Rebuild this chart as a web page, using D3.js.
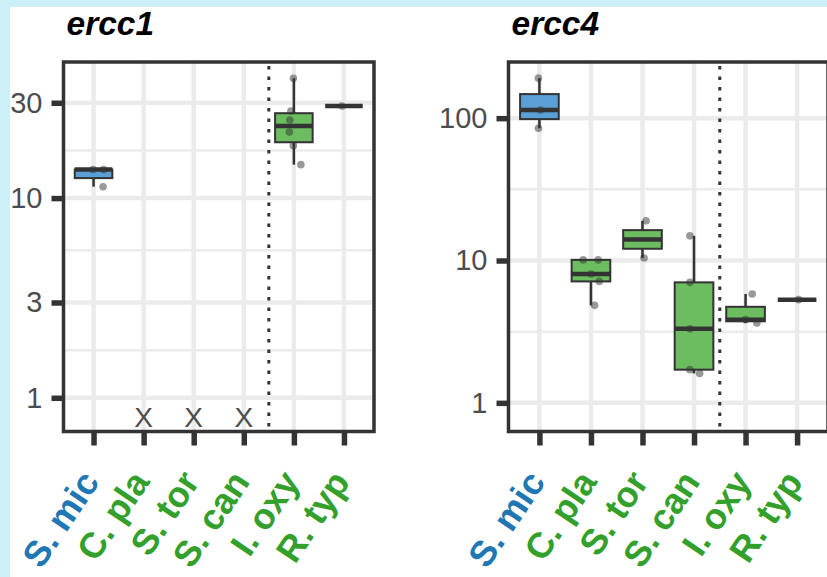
<!DOCTYPE html>
<html><head><meta charset="utf-8">
<script src="https://cdn.jsdelivr.net/npm/d3@7"></script>
<style>html,body{margin:0;padding:0;background:#cdeff7;} svg{display:block}</style>
</head><body>
<svg id="chart" width="827" height="577"></svg>
<script>
// ---- data ----
const categories = ["S. mic","C. pla","S. tor","S. can","I. oxy","R. typ"];
const categoryGroup = ["ref","other","other","other","other","other"];
const ercc1Values = [[11.4,13.9,13.9],[],[],[],[14.7,18.3,21.4,24.6,27.3,39.8],[28.9]];
const ercc1Jitter = [[0.19,-0.01,0.2],[],[],[],[0.14,-0.01,-0.09,-0.08,-0.06,-0.01],[-0.04]];
const ercc1Missing = ["C. pla","S. tor","S. can"];
const ercc1MissingValue = 0.8;
const ercc1Ticks = [1,3,10,30];
const ercc1Domain = [0.678, 48];
const ercc4Values = [[85,114,191],[4.84,7.13,8.04,10.1,10.1],[10.4,19.0],[1.61,1.71,3.31,7.02,14.9],[3.64,3.84,5.82],[5.31]];
const ercc4Jitter = [[-0.02,0.02,-0.02],[0.07,0.16,0,-0.15,0.14],[0.03,0.07],[0.11,-0.08,-0.08,-0.08,-0.08],[0.22,0,0.13],[0.03]];
const ercc4Missing = [];
const ercc4MissingValue = 0.8;
const ercc4Ticks = [1,10,100];
const ercc4Domain = [0.629, 248];
const dividerBetween = ["S. can","I. oxy"];
const titles = ["ercc1","ercc4"];

// ---- styles ----
const fillColor = {ref:"#5a9fd5", other:"#6bbd5f"};
const labelColor = {ref:"#1f78b4", other:"#33a02c"};
const FONT = "'Liberation Sans', Arial, Helvetica, sans-serif";

const svg = d3.select("#chart");
svg.append("rect").attr("x",10).attr("y",7).attr("width",817).attr("height",570).attr("fill","#ffffff");

function panel(cfg){
  const {x0,x1,y0,y1,values,jitter,missing,missingValue,ticks,domain,title} = cfg;
  const g = svg.append("g");
  const x = d3.scalePoint().domain(categories).range([x0,x1]).padding(0.6);
  const y = d3.scaleLog().domain(domain).range([y1,y0]);
  const step = x.step();

  // grid
  const minors = d3.pairs(ticks).map(([a,b])=>Math.sqrt(a*b));
  g.selectAll(".minor").data(minors).join("line")
    .attr("x1",x0).attr("x2",x1).attr("y1",d=>y(d)).attr("y2",d=>y(d))
    .attr("stroke","#ebebeb").attr("stroke-width",2.5);
  g.selectAll(".major").data(ticks).join("line")
    .attr("x1",x0).attr("x2",x1).attr("y1",d=>y(d)).attr("y2",d=>y(d))
    .attr("stroke","#ebebeb").attr("stroke-width",4.5);
  g.selectAll(".vgrid").data(categories).join("line")
    .attr("x1",d=>x(d)).attr("x2",d=>x(d)).attr("y1",y0).attr("y2",y1)
    .attr("stroke","#ebebeb").attr("stroke-width",4.5);

  // divider
  const dx = (x(dividerBetween[0])+x(dividerBetween[1]))/2;
  g.append("line").attr("x1",dx).attr("x2",dx).attr("y1",y0+4).attr("y2",y1)
    .attr("stroke","#333").attr("stroke-width",3).attr("stroke-dasharray","3.5,7");

  // boxes
  categories.forEach((c,i)=>{
    const vals = values[i];
    if(!vals.length) return;
    const lv = vals.map(v=>Math.log10(v)).sort(d3.ascending);
    const q1 = d3.quantile(lv,0.25), med = d3.quantile(lv,0.5), q3 = d3.quantile(lv,0.75);
    const iqr = q3-q1;
    const lo = d3.min(lv.filter(v=>v>=q1-1.5*iqr)), hi = d3.max(lv.filter(v=>v<=q3+1.5*iqr));
    const P = v=>y(Math.pow(10,v));
    const cx = x(c), w = step*0.75;
    const bg = g.append("g");
    bg.append("line").attr("x1",cx).attr("x2",cx).attr("y1",P(hi)).attr("y2",P(q3))
      .attr("stroke","#333").attr("stroke-width",2.5);
    bg.append("line").attr("x1",cx).attr("x2",cx).attr("y1",P(q1)).attr("y2",P(lo))
      .attr("stroke","#333").attr("stroke-width",2.5);
    bg.append("rect").attr("x",cx-w/2).attr("width",w).attr("y",P(q3)).attr("height",Math.max(0,P(q1)-P(q3)))
      .attr("fill",fillColor[categoryGroup[i]]).attr("stroke","#333").attr("stroke-width",2);
    bg.append("line").attr("x1",cx-w/2).attr("x2",cx+w/2).attr("y1",P(med)).attr("y2",P(med))
      .attr("stroke","#333").attr("stroke-width",4.5);
  });

  // points
  categories.forEach((c,i)=>{
    g.selectAll(null).data(values[i].map((v,j)=>({v,j:jitter[i][j]}))).join("circle")
      .attr("cx",d=>x(c)+d.j*step).attr("cy",d=>y(d.v)).attr("r",3.8)
      .attr("fill","#333").attr("fill-opacity",0.5);
  });

  // missing markers
  g.selectAll(".miss").data(missing).join("text")
    .attr("x",d=>x(d)).attr("y",y(missingValue)).attr("text-anchor","middle").attr("dy","0.36em")
    .attr("font-family",FONT).attr("font-size",28).attr("fill","#4d4d4d").text("X");

  // border
  g.append("rect").attr("x",x0).attr("y",y0).attr("width",x1-x0).attr("height",y1-y0)
    .attr("fill","none").attr("stroke","#333").attr("stroke-width",3.5);

  // y axis
  const ya = g.append("g").attr("transform",`translate(${x0},0)`)
    .call(d3.axisLeft(y).tickValues(ticks).tickFormat(d3.format("d")).tickSize(12).tickPadding(9));
  ya.select(".domain").remove();
  ya.selectAll(".tick line").attr("stroke","#333").attr("stroke-width",5.5);
  ya.selectAll(".tick text").attr("font-family",FONT).attr("font-size",29).attr("fill","#4d4d4d");

  // x axis
  const xa = g.append("g").attr("transform",`translate(0,${y1})`)
    .call(d3.axisBottom(x).tickSize(14).tickFormat(""));
  xa.select(".domain").remove();
  xa.selectAll(".tick line").attr("stroke","#333").attr("stroke-width",5.5);
  xa.selectAll(".tick text").remove();

  g.selectAll(".xlab").data(categories).join("text")
    .attr("transform",d=>`translate(${x(d)+7},${y1+50.5}) rotate(-56)`)
    .attr("text-anchor","end")
    .attr("font-family",FONT).attr("font-size",36).attr("font-weight","bold")
    .attr("fill",(d,i)=>labelColor[categoryGroup[i]]).text(d=>d);

  // title
  g.append("text").attr("x",x0+3).attr("y",35).attr("font-family",FONT)
    .attr("font-size",33.5).attr("font-weight","bold").attr("font-style","italic")
    .attr("fill","#000").text(title);
}

panel({x0:63.5,x1:374,y0:62,y1:431.5,values:ercc1Values,jitter:ercc1Jitter,missing:ercc1Missing,
  missingValue:ercc1MissingValue,ticks:ercc1Ticks,domain:ercc1Domain,title:titles[0]});
panel({x0:508.5,x1:828,y0:62,y1:431.5,values:ercc4Values,jitter:ercc4Jitter,missing:ercc4Missing,
  missingValue:ercc4MissingValue,ticks:ercc4Ticks,domain:ercc4Domain,title:titles[1]});
</script>
</body></html>
